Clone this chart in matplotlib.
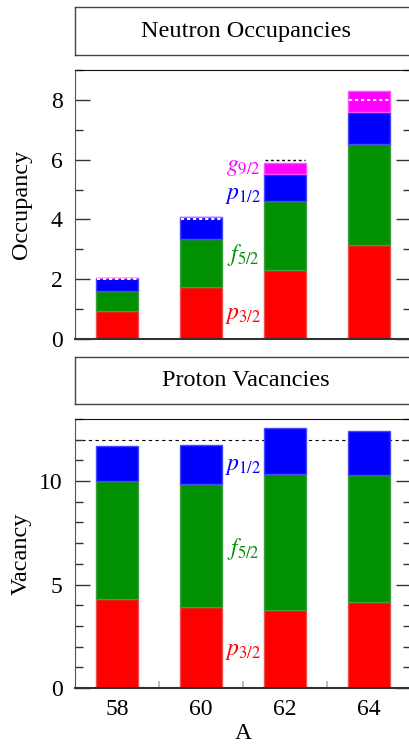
import matplotlib.pyplot as plt
import matplotlib

matplotlib.rcParams['font.family'] = ['Liberation Serif', 'DejaVu Serif']
matplotlib.rcParams['mathtext.fontset'] = 'stix'

A = [58, 60, 62, 64]

# neutron occupancies per orbit
n_p32 = [0.94, 1.73, 2.31, 3.14]
n_f52 = [0.66, 1.60, 2.32, 3.40]
n_p12 = [0.44, 0.74, 0.89, 1.06]
n_g92 = [0.00, 0.00, 0.38, 0.70]
n_full = [2, 4, 6, 8]

# proton vacancies per orbit
p_p32 = [4.32, 3.92, 3.79, 4.18]
p_f52 = [5.66, 5.92, 6.53, 6.13]
p_p12 = [1.71, 1.89, 2.23, 2.11]
p_full = 12

red, green, blue, magenta = '#ff0000', '#009000', '#0000ff', '#ff00ff'
edges = {red: '#e85050', green: '#40a040', blue: '#4848ff', magenta: '#ff50ff'}

W, H = 409, 747
fig = plt.figure(figsize=(W / 100, H / 100), dpi=100)

def box(top, bottom):
    return [75 / W, 1 - bottom / H, 336 / W, (bottom - top) / H]

def title_axes(top, bottom, text):
    ax = fig.add_axes(box(top, bottom))
    ax.set_xticks([])
    ax.set_yticks([])
    for s in ax.spines.values():
        s.set_color('#444444')
        s.set_linewidth(1.0)
    ax.text(0.508, 0.5, text, transform=ax.transAxes, ha='center', va='center', fontsize=17.5)
    return ax

def stack(ax, layers):
    bottom = [0.0] * len(A)
    for vals, c in layers:
        ax.bar(A, vals, width=0.99, bottom=bottom, color=c, edgecolor=edges[c], linewidth=1.0, zorder=2)
        bottom = [b + v for b, v in zip(bottom, vals)]
    return bottom

def style(ax, ymax, major, minor, xminor=True):
    ax.set_xlim(57, 65)
    ax.set_ylim(0, ymax)
    ax.set_yticks(range(0, ymax + 1, major))
    ax.set_yticks(range(0, ymax + 1, minor), minor=True)
    ax.set_xticks(A)
    if xminor:
        ax.set_xticks([59, 61, 63], minor=True)
    ax.tick_params(axis='y', which='both', direction='in', left=True, right=True,
                   color='#333333', labelsize=17, pad=9)
    ax.tick_params(axis='y', which='major', length=11, width=1.0)
    ax.tick_params(axis='y', which='minor', length=5.5, width=1.0)
    ax.tick_params(axis='x', which='major', length=0, labelsize=17, pad=8)
    ax.tick_params(axis='x', which='minor', direction='in', length=5, width=1.2, color='#b0b0b0')
    ax.spines['left'].set_color('#555555')
    ax.spines['top'].set_color('#111111')
    ax.spines['right'].set_visible(False)
    ax.spines['bottom'].set_color('#333333')
    ax.spines['bottom'].set_linewidth(1.5)

# neutron panel
title_axes(7, 55, 'Neutron Occupancies')
ax1 = fig.add_axes(box(70, 339))
tot = stack(ax1, [(n_p32, red), (n_f52, green), (n_p12, blue), (n_g92, magenta)])
for a, full, t in zip(A, n_full, tot):
    if t > full:
        ax1.hlines(full, a - 0.47, a + 0.47, colors='white', linestyles=(0, (1.5, 1.4)), lw=1.5, zorder=3)
    else:
        ax1.hlines(full, a - 0.47, a + 0.47, colors='black', linestyles=(0, (2, 2)), lw=1.0, zorder=3)
style(ax1, 9, 2, 1, xminor=False)
ax1.set_xticklabels([])
ax1.set_ylabel('Occupancy', fontsize=17.5)
ax1.yaxis.set_label_coords(-0.128, 0.5)
ax1.text(61, 5.75, r'$g_{9/2}$', color=magenta, fontsize=17, ha='center', va='center')
ax1.text(61, 4.8, r'$p_{1/2}$', color=blue, fontsize=17, ha='center', va='center')
ax1.text(61, 2.8, r'$f_{5/2}$', color=green, fontsize=17, ha='center', va='center')
ax1.text(61, 0.8, r'$p_{3/2}$', color=red, fontsize=17, ha='center', va='center')

# proton panel
title_axes(357, 404, 'Proton Vacancies')
ax2 = fig.add_axes(box(419, 688))
ax2.axhline(p_full, color='black', ls=(0, (3, 3)), lw=0.8, zorder=1)
stack(ax2, [(p_p32, red), (p_f52, green), (p_p12, blue)])
style(ax2, 13, 5, 1)
ax2.set_ylabel('Vacancy', fontsize=17.5)
ax2.yaxis.set_label_coords(-0.128, 0.5)
ax2.set_xlabel('A', fontsize=17, labelpad=2)
ax2.text(61, 10.7, r'$p_{1/2}$', color=blue, fontsize=17, ha='center', va='center')
ax2.text(61, 6.7, r'$f_{5/2}$', color=green, fontsize=17, ha='center', va='center')
ax2.text(61, 1.75, r'$p_{3/2}$', color=red, fontsize=17, ha='center', va='center')

fig.savefig('out.png', dpi=100)
